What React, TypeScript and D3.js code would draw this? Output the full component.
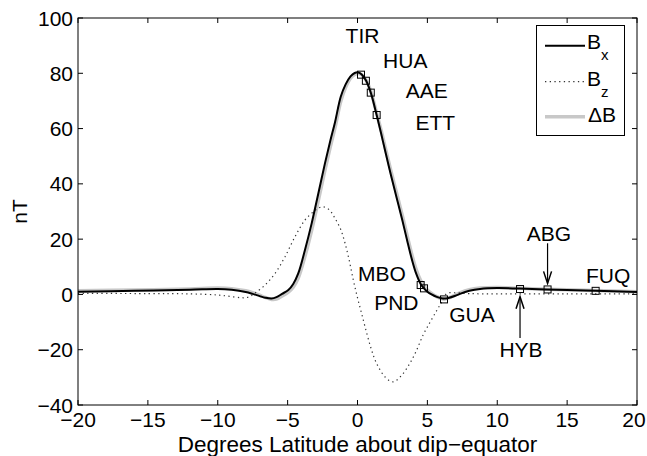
import React from "react";
import * as d3 from "d3";

// ---- data ----
const bxLat = [-20, -16, -12, -10, -9, -8, -7.5, -7, -6.6, -6.15, -5.8, -5.4, -4.95, -4.6, -4.24, -3.76, -3.28, -2.8, -2.33, -1.95, -1.6, -1.2, -0.85, -0.5, -0.2, 0.06, 0.3, 0.6, 0.95, 1.37, 1.7, 2.0, 2.4, 2.8, 3.2, 3.6, 3.9, 4.2, 4.52, 4.76, 5.0, 5.3, 5.67, 6.0, 6.2, 6.5, 7.0, 7.33, 8.0, 8.77, 10, 11.6, 13.5, 15, 17, 20];
const bxVal = [1.0, 1.3, 1.7, 2.0, 1.7, 0.9, 0.2, -0.6, -1.2, -1.5, -1.0, 0.2, 1.6, 3.8, 7.6, 16.1, 25.7, 36.6, 47.4, 55.5, 62.5, 71.5, 76.0, 78.9, 80.1, 80.3, 79.6, 77.5, 73.0, 64.9, 58.0, 51.5, 43.0, 35.0, 27.0, 18.5, 12.5, 7.5, 3.8, 2.2, 1.0, 0.0, -0.9, -1.4, -1.5, -1.3, -0.5, 0.2, 1.3, 2.0, 2.3, 2.1, 1.8, 1.6, 1.3, 0.9];
const dbVal = [1.3, 1.6, 2.0, 2.3, 2.1, 1.3, 0.6, -0.3, -1.1, -1.8, -1.7, -0.6, 0.8, 2.6, 5.9, 13.8, 23.2, 34.0, 45.0, 53.3, 60.5, 69.8, 74.9, 78.2, 79.6, 79.9, 79.5, 77.6, 73.5, 65.6, 59.2, 52.8, 44.5, 36.6, 28.7, 20.3, 14.2, 9.0, 5.0, 3.0, 1.6, 0.4, -0.8, -1.5, -1.7, -1.3, -0.2, 0.6, 1.7, 2.3, 2.5, 2.2, 1.9, 1.7, 1.4, 1.0];

const bzLat = [-20, -15, -12, -10, -9, -8.3, -7.9, -7.6, -7.3, -6.62, -5.9, -5.19, -4.47, -3.76, -3.16, -2.8, -2.45, -2.0, -1.61, -1.2, -0.89, -0.6, -0.3, 0.0, 0.3, 0.66, 1.0, 1.37, 2.0, 2.56, 3.2, 3.76, 4.2, 4.71, 5.2, 5.67, 6.0, 6.38, 7.0, 8.0, 10, 15, 20];
const bzVal = [0.4, 0.3, 0.2, -0.2, -0.8, -1.2, -1.1, -0.5, 0.6, 3.4, 7.6, 13.6, 20.9, 26.9, 29.9, 31.2, 31.7, 30.5, 27.5, 23.5, 18.5, 12.5, 5.2, -1.2, -7.0, -14.0, -20.0, -25.0, -30.0, -31.6, -29.0, -24.8, -20.5, -14.5, -10.0, -5.8, -3.0, 0.3, 0.6, 0.3, 0.2, 0.2, 0.2];

const stationNames = ["TIR", "HUA", "AAE", "ETT", "MBO", "PND", "GUA", "HYB", "ABG", "FUQ"];
const stationLat = [0.25, 0.6, 0.95, 1.37, 4.52, 4.76, 6.19, 11.63, 13.6, 17.04];
const stationVal = [79.5, 77.3, 73.0, 64.9, 3.4, 2.2, -1.8, 1.95, 1.8, 1.3];
const labelLat = [0.36, 3.42, 4.95, 5.57, 1.75, 2.78, 8.19, 11.7, 13.69, 17.93];
const labelVal = [91.0, 81.8, 70.9, 59.5, 5.0, -5.6, -9.9, -22.6, 19.3, 4.2];

const xTicks = [-20, -15, -10, -5, 0, 5, 10, 15, 20];
const yTicks = [-40, -20, 0, 20, 40, 60, 80, 100];

// arrows: [lat, fromVal, toVal]
const arrows = [
  [13.6, 18.5, 4.0],
  [11.63, -15.8, -0.8],
];

const FONT = "'Liberation Sans', Arial, Helvetica, sans-serif";
const W = 647;
const H = 456;

export default function App() {
  const x = d3.scaleLinear().domain([-20, 20]).range([78, 637]);
  const y = d3.scaleLinear().domain([-40, 100]).range([405, 18]);
  const line = d3
    .line<[number, number]>()
    .x((d) => x(d[0]))
    .y((d) => y(d[1]))
    .curve(d3.curveCatmullRom.alpha(0.5));

  const bx = line(bxLat.map((l, i) => [l, bxVal[i]]) as [number, number][]) || "";
  const db = line(bxLat.map((l, i) => [l, dbVal[i]]) as [number, number][]) || "";
  const bz = line(bzLat.map((l, i) => [l, bzVal[i]]) as [number, number][]) || "";

  const [x0, x1] = x.range();
  const [y0, y1] = y.range();
  const tl = 5;
  const fs = 21;

  return (
    <svg
      width={W}
      height={H}
      style={{ position: "absolute", left: 0, top: 0, background: "#fff" }}
      fontFamily={FONT}
    >
      <rect x={0} y={0} width={W} height={H} fill="#fff" />
      <defs>
        <clipPath id="plotclip">
          <rect x={x0} y={y1} width={x1 - x0} height={y0 - y1} />
        </clipPath>
      </defs>
      <g clipPath="url(#plotclip)">
        <path d={db} fill="none" stroke="#c8c8c8" strokeWidth={3.5} />
        <path d={bz} fill="none" stroke="#333" strokeWidth={1.2} strokeDasharray="1.3 3.4" />
        <path d={bx} fill="none" stroke="#000" strokeWidth={2} />
      </g>
      {stationNames.map((n, i) => (
        <rect
          key={"sq" + n}
          x={x(stationLat[i]) - 3.5}
          y={y(stationVal[i]) - 3.5}
          width={7}
          height={7}
          fill="none"
          stroke="#000"
          strokeWidth={1}
        />
      ))}
      {stationNames.map((n, i) => (
        <text
          key={"lb" + n}
          x={x(labelLat[i])}
          y={y(labelVal[i])}
          fontSize={fs}
          textAnchor="middle"
          fill="#000"
        >
          {n}
        </text>
      ))}
      {arrows.map((a, i) => {
        const ax = x(a[0]);
        const ya = y(a[1]);
        const yb = y(a[2]);
        const dir = yb > ya ? 1 : -1;
        return (
          <g key={"ar" + i}>
            <line x1={ax} x2={ax} y1={ya} y2={yb} stroke="#000" strokeWidth={1.2} />
            <path
              d={`M${ax - 4},${yb - dir * 12} L${ax},${yb} L${ax + 4},${yb - dir * 12}`}
              fill="none"
              stroke="#000"
              strokeWidth={1.5}
            />
          </g>
        );
      })}
      {/* axes box */}
      <rect x={x0} y={y1} width={x1 - x0} height={y0 - y1} fill="none" stroke="#000" strokeWidth={1} />
      {xTicks.map((t) => (
        <g key={"xt" + t}>
          <line x1={x(t)} x2={x(t)} y1={y0} y2={y0 - tl} stroke="#000" />
          <line x1={x(t)} x2={x(t)} y1={y1} y2={y1 + tl} stroke="#000" />
          <text x={Math.min(x(t), W - 13)} y={427} fontSize={fs} textAnchor="middle">
            {t < 0 ? "\u2212" + Math.abs(t) : String(t)}
          </text>
        </g>
      ))}
      {yTicks.map((t) => (
        <g key={"yt" + t}>
          <line x1={x0} x2={x0 + tl} y1={y(t)} y2={y(t)} stroke="#000" />
          <line x1={x1} x2={x1 - tl} y1={y(t)} y2={y(t)} stroke="#000" />
          <text x={73} y={y(t) + 7.5} fontSize={fs} textAnchor="end">
            {t < 0 ? "\u2212" + Math.abs(t) : String(t)}
          </text>
        </g>
      ))}
      <text x={(x0 + x1) / 2} y={452} fontSize={22.5} textAnchor="middle">
        Degrees Latitude about dip{"\u2212"}equator
      </text>
      <text transform={`translate(27,${(y0 + y1) / 2}) rotate(-90)`} fontSize={fs} textAnchor="middle">
        nT
      </text>
      {/* legend */}
      <g>
        <rect x={536.5} y={25.5} width={88} height={110} fill="#fff" stroke="#000" strokeWidth={1} />
        <line x1={545} x2={585} y1={45.7} y2={45.7} stroke="#000" strokeWidth={2} />
        <line x1={545} x2={585} y1={81.7} y2={81.7} stroke="#333" strokeWidth={1.2} strokeDasharray="1.3 3.4" />
        <line x1={545} x2={585} y1={116.7} y2={116.7} stroke="#c8c8c8" strokeWidth={3.5} />
        <text x={587} y={49.3} fontSize={fs}>B</text>
        <text x={601} y={60} fontSize={15}>x</text>
        <text x={587} y={86} fontSize={fs}>B</text>
        <text x={601} y={97} fontSize={15}>z</text>
        <text x={588} y={121.7} fontSize={fs}>{"\u0394B"}</text>
      </g>
    </svg>
  );
}
